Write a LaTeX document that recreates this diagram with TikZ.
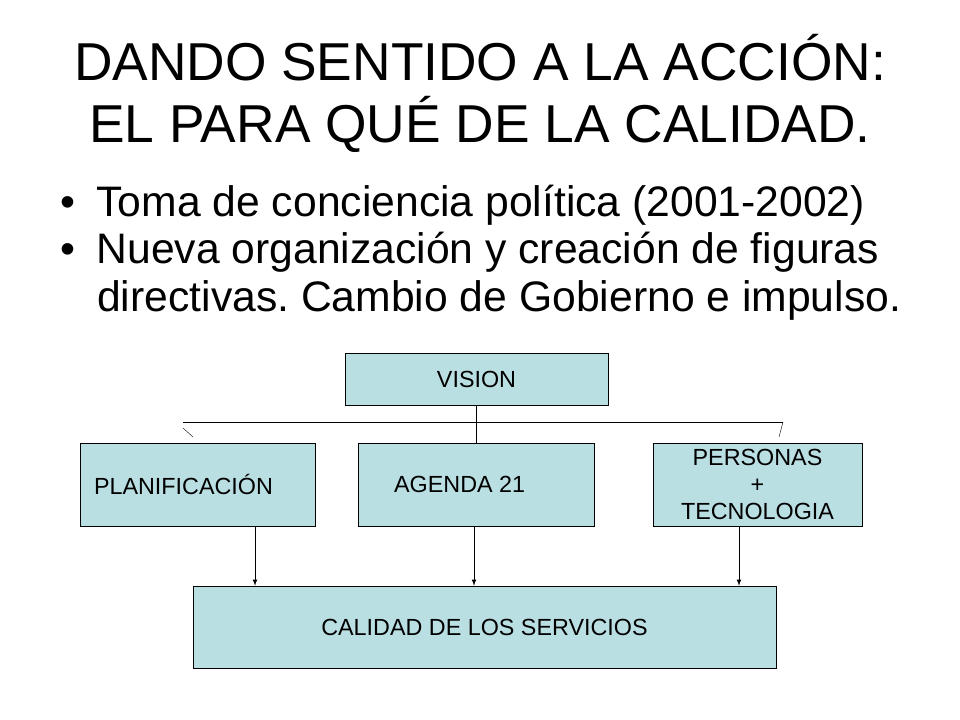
\documentclass[tikz,border=0pt]{standalone}
\usepackage{fontspec}
\setmainfont{Liberation Sans}
\frenchspacing
\begin{document}
\begin{tikzpicture}[x=0.75pt,y=-0.75pt,
  box/.style={draw,fill=boxblue,inner sep=0pt,font=\fontsize{17.5}{20}\selectfont,align=center},
  ln/.style={line width=0.6pt},
  arr/.style={ln,-latex}]
\definecolor{boxblue}{HTML}{BADFE3}
\useasboundingbox (0,0) rectangle (960,720);
\node (t) at (480,96) {\fontsize{40}{39}\selectfont\begin{tabular}{c}DANDO SENTIDO A LA ACCIÓN:\\EL PARA QUÉ DE LA CALIDAD.\end{tabular}};
\node[anchor=west,inner sep=0pt] (b1) at (60,205) {\fontsize{32}{36}\selectfont •\hspace{16pt}Toma de conciencia política (2001-2002)};
\node[anchor=west,inner sep=0pt] (b2) at (60,252) {\fontsize{32}{36}\selectfont •\hspace{16pt}Nueva organización y creación de figuras};
\node[anchor=west,inner sep=0pt] (b3) at (97,300) {\fontsize{32}{36}\selectfont directivas. Cambio de Gobierno e impulso.};
\node[box,minimum width=263*0.75pt,minimum height=52*0.75pt] (v) at (476.5,379) {VISION};
\node[box,minimum width=235*0.75pt,minimum height=83*0.75pt] (p) at (197.5,484.5) {\hspace{-1.2em}PLANIFICACIÓN};
\node[box,minimum width=236*0.75pt,minimum height=83*0.75pt] (a) at (476,484.5) {\hspace{-1.4em}AGENDA 21};
\node[box,minimum width=209*0.75pt,minimum height=83*0.75pt] (pt) at (757.5,484.5) {\fontsize{17.5}{22.5}\selectfont PERSONAS\\+\\TECNOLOGIA};
\node[box,minimum width=583*0.75pt,minimum height=82*0.75pt] (c) at (484.5,627) {CALIDAD DE LOS SERVICIOS};
\coordinate (hl) at (183,422);
\coordinate (hr) at (783,422);
\draw[ln] (hl) -- (hr);
\draw[ln] (v.south) -- (a.north -| v.south);
\draw[line width=0.3pt] (183,428) -- (193,437);
\draw[line width=0.3pt] (783,422) -- (779,437);
\draw[arr] (p.south -| 255,0) -- (c.north -| 255,0);
\draw[arr] (a.south -| 474,0) -- (c.north -| 474,0);
\draw[arr] (pt.south -| 739,0) -- (c.north -| 739,0);
\end{tikzpicture}
\end{document}
